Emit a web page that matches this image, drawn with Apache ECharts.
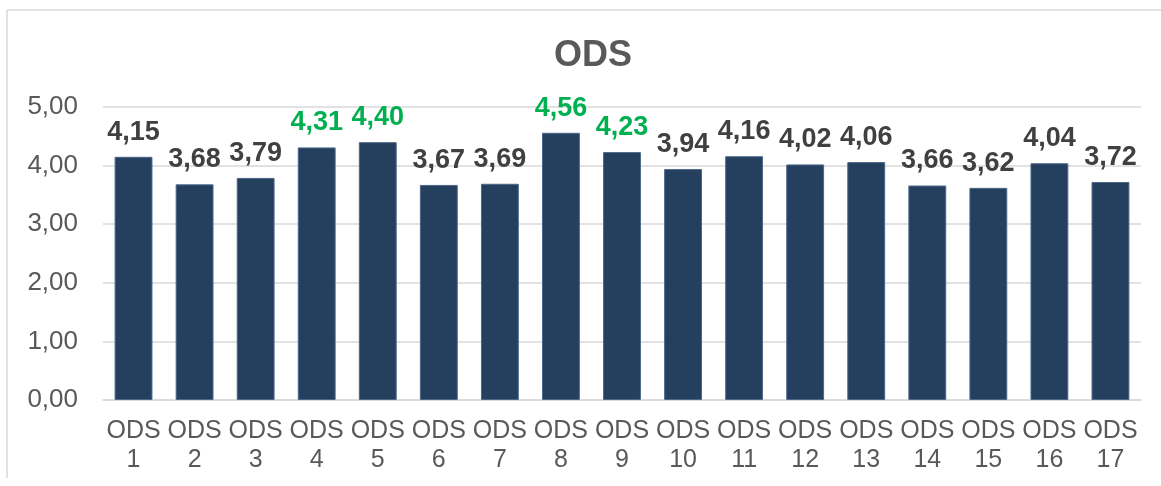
<!DOCTYPE html>
<html>
<head>
<meta charset="utf-8">
<script src="https://cdn.jsdelivr.net/npm/echarts@6/dist/echarts.min.js"></script>
<style>
  html, body { margin: 0; padding: 0; background: #fff; }
  #main { width: 1161px; height: 486px; }
</style>
</head>
<body>
<div id="main"></div>
<script>
var categories = ['ODS\n1', 'ODS\n2', 'ODS\n3', 'ODS\n4', 'ODS\n5', 'ODS\n6', 'ODS\n7', 'ODS\n8', 'ODS\n9',
  'ODS\n10', 'ODS\n11', 'ODS\n12', 'ODS\n13', 'ODS\n14', 'ODS\n15', 'ODS\n16', 'ODS\n17'];
var values = [4.15, 3.68, 3.79, 4.31, 4.40, 3.67, 3.69, 4.56, 4.23, 3.94, 4.16, 4.02, 4.06, 3.66, 3.62, 4.04, 3.72];
// labels shown in green in the original
var highlighted = [false, false, false, true, true, false, false, true, true, false, false, false, false, false, false, false, false];

var myChart = echarts.init(document.getElementById('main'));

function fmt(v) {
  return v.toFixed(2).replace('.', ',');
}

var option = {
  animation: false,
  textStyle: { fontFamily: 'Liberation Sans' },
  title: {
    text: 'ODS',
    left: 549,
    top: 33,
    textStyle: { fontSize: 36, fontWeight: 'bold', color: '#595959', fontFamily: 'Liberation Sans' }
  },
  graphic: [
    { type: 'line', shape: { x1: 7, y1: 10, x2: 1161, y2: 10 }, style: { stroke: '#d9d9d9', lineWidth: 1.5 } },
    { type: 'line', shape: { x1: 7, y1: 10, x2: 7, y2: 478 }, style: { stroke: '#d9d9d9', lineWidth: 1.5 } }
  ],
  grid: { left: 103, right: 20, top: 107, bottom: 86 },
  xAxis: {
    type: 'category',
    data: categories,
    axisLine: { lineStyle: { color: '#d9d9d9', width: 1.5 } },
    axisTick: { show: false },
    axisLabel: {
      interval: 0,
      margin: 17,
      fontSize: 25,
      lineHeight: 29,
      color: '#595959',
      fontFamily: 'Liberation Sans'
    }
  },
  yAxis: {
    type: 'value',
    min: 0,
    max: 5,
    interval: 1,
    axisLine: { show: false },
    axisTick: { show: false },
    splitLine: { lineStyle: { color: '#d9d9d9', width: 1.5 } },
    axisLabel: {
      margin: 25,
      fontSize: 26,
      color: '#595959',
      fontFamily: 'Liberation Sans',
      formatter: function (v) { return fmt(v); }
    }
  },
  series: [
    {
      type: 'bar',
      barWidth: '62%',
      data: values.map(function (v, i) {
        return {
          value: v,
          label: { color: highlighted[i] ? '#00b050' : '#404040' }
        };
      }),
      itemStyle: { color: '#253f5f', borderColor: '#4c6788', borderWidth: 1 },
      label: {
        show: true,
        position: 'top',
        distance: 11,
        fontSize: 27,
        fontWeight: 'bold',
        fontFamily: 'Liberation Sans',
        formatter: function (p) { return fmt(p.value); }
      }
    }
  ]
};

myChart.setOption(option);
</script>
</body>
</html>
